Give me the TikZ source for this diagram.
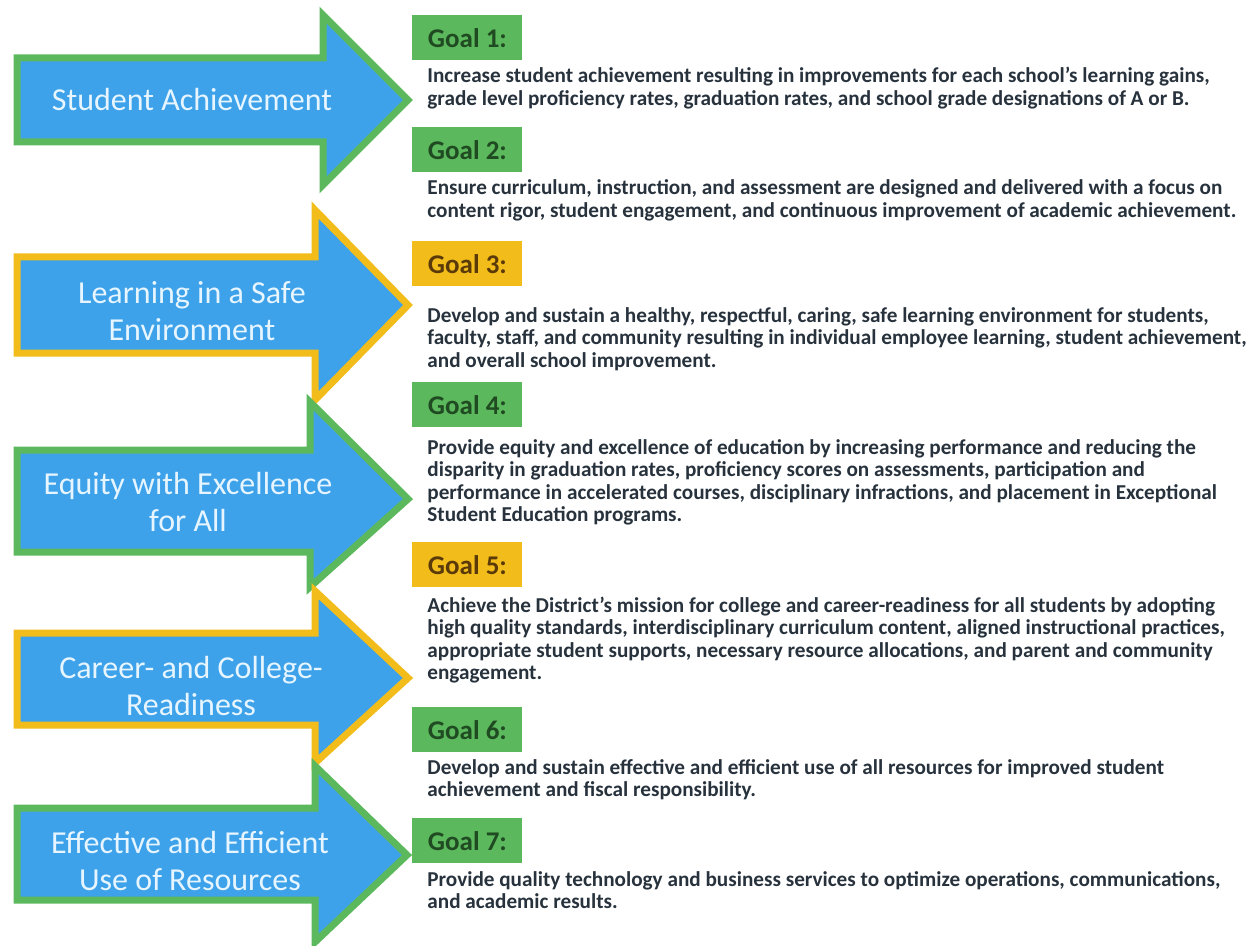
\documentclass[tikz,border=0pt]{standalone}
\usepackage{fontspec}
\setmainfont{Carlito}
\usepackage{tikz}
\definecolor{arrowblue}{HTML}{3DA2EA}
\definecolor{goalgreen}{HTML}{5CB85C}
\definecolor{goalyellow}{HTML}{F2BC1B}
\definecolor{labelgreen}{HTML}{1F4A22}
\definecolor{labelbrown}{HTML}{5A3A08}
\definecolor{bodyink}{HTML}{27323D}
\definecolor{arrowtext}{HTML}{E6F5FF}

\begin{document}
\begin{tikzpicture}[x=0.5pt,y=-0.5pt,
	greenarrow/.style={draw=goalgreen,fill=arrowblue,line width=3.5pt,line join=miter},
	yellowarrow/.style={draw=goalyellow,fill=arrowblue,line width=3.5pt,line join=miter},
	arrowlabel/.style={text=arrowtext,font=\fontsize{16}{18.5}\selectfont,align=center},
	goalbox/.style={anchor=north west,minimum width=55pt,minimum height=22.5pt,inner sep=0pt,font=\fontsize{13.5}{15}\selectfont\bfseries},
	greenbox/.style={goalbox,fill=goalgreen,text=labelgreen},
	yellowbox/.style={goalbox,fill=goalyellow,text=labelbrown},
	goaltext/.style={anchor=base west,inner sep=0pt,align=left,text=bodyink,font=\fontsize{10.6}{11.25}\selectfont\bfseries}]
\useasboundingbox (0,0) rectangle (1256,946);
% the five arrows
\draw[greenarrow] (17,58) -- (323,58) -- (323,15) -- (408,100) -- (323,185) -- (323,142) -- (17,142) -- cycle;
\node[arrowlabel] (SA) at (192,100) {Student Achievement};
\draw[yellowarrow] (17,257) -- (315,257) -- (315,210) -- (408,305) -- (315,400) -- (315,353) -- (17,353) -- cycle;
\node[arrowlabel] (LSE) at (192,311) {Learning in a Safe\\Environment};
\draw[greenarrow] (17,450) -- (310,450) -- (310,402) -- (408,499) -- (310,587) -- (310,552) -- (17,552) -- cycle;
\node[arrowlabel] (EEA) at (188,502) {Equity with Excellence\\for All};
\draw[yellowarrow] (17,633) -- (315,633) -- (315,591) -- (408,678) -- (315,763) -- (315,725) -- (17,725) -- cycle;
\node[arrowlabel] (CCR) at (191,686) {Career- and College-\\Readiness};
\draw[greenarrow] (17,808) -- (315,808) -- (315,766) -- (407,855) -- (315,942) -- (315,900) -- (17,900) -- cycle;
\node[arrowlabel] (EUR) at (190,861) {Effective and Efficient\\Use of Resources};
% goal labels
\node[greenbox] (G1) at (412,15) {Goal 1:};
\node[greenbox] (G2) at (412,127) {Goal 2:};
\node[yellowbox] (G3) at (412,241) {Goal 3:};
\node[greenbox] (G4) at (412,382) {Goal 4:};
\node[yellowbox] (G5) at (412,542) {Goal 5:};
\node[greenbox] (G6) at (412,707) {Goal 6:};
\node[greenbox] (G7) at (412,818) {Goal 7:};
% goal texts (placed by the baseline of their last line)
\node[goaltext] (T1) at (427,105.5) {Increase student achievement resulting in improvements for each school’s learning gains,\\grade level proficiency rates, graduation rates, and school grade designations of A or B.};
\node[goaltext] (T2) at (427,217.5) {Ensure curriculum, instruction, and assessment are designed and delivered with a focus on\\content rigor, student engagement, and continuous improvement of academic achievement.};
\node[goaltext] (T3) at (427,367) {Develop and sustain a healthy, respectful, caring, safe learning environment for students,\\faculty, staff, and community resulting in individual employee learning, student achievement,\\and overall school improvement.};
\node[goaltext] (T4) at (427,521.5) {Provide equity and excellence of education by increasing performance and reducing the\\disparity in graduation rates, proficiency scores on assessments, participation and\\performance in accelerated courses, disciplinary infractions, and placement in Exceptional\\Student Education programs.};
\node[goaltext] (T5) at (427,679.5) {Achieve the District’s mission for college and career-readiness for all students by adopting\\high quality standards, interdisciplinary curriculum content, aligned instructional practices,\\appropriate student supports, necessary resource allocations, and parent and community\\engagement.};
\node[goaltext] (T6) at (427,796.5) {Develop and sustain effective and efficient use of all resources for improved student\\achievement and fiscal responsibility.};
\node[goaltext] (T7) at (427,908.5) {Provide quality technology and business services to optimize operations, communications,\\and academic results.};
\end{tikzpicture}
\end{document}
